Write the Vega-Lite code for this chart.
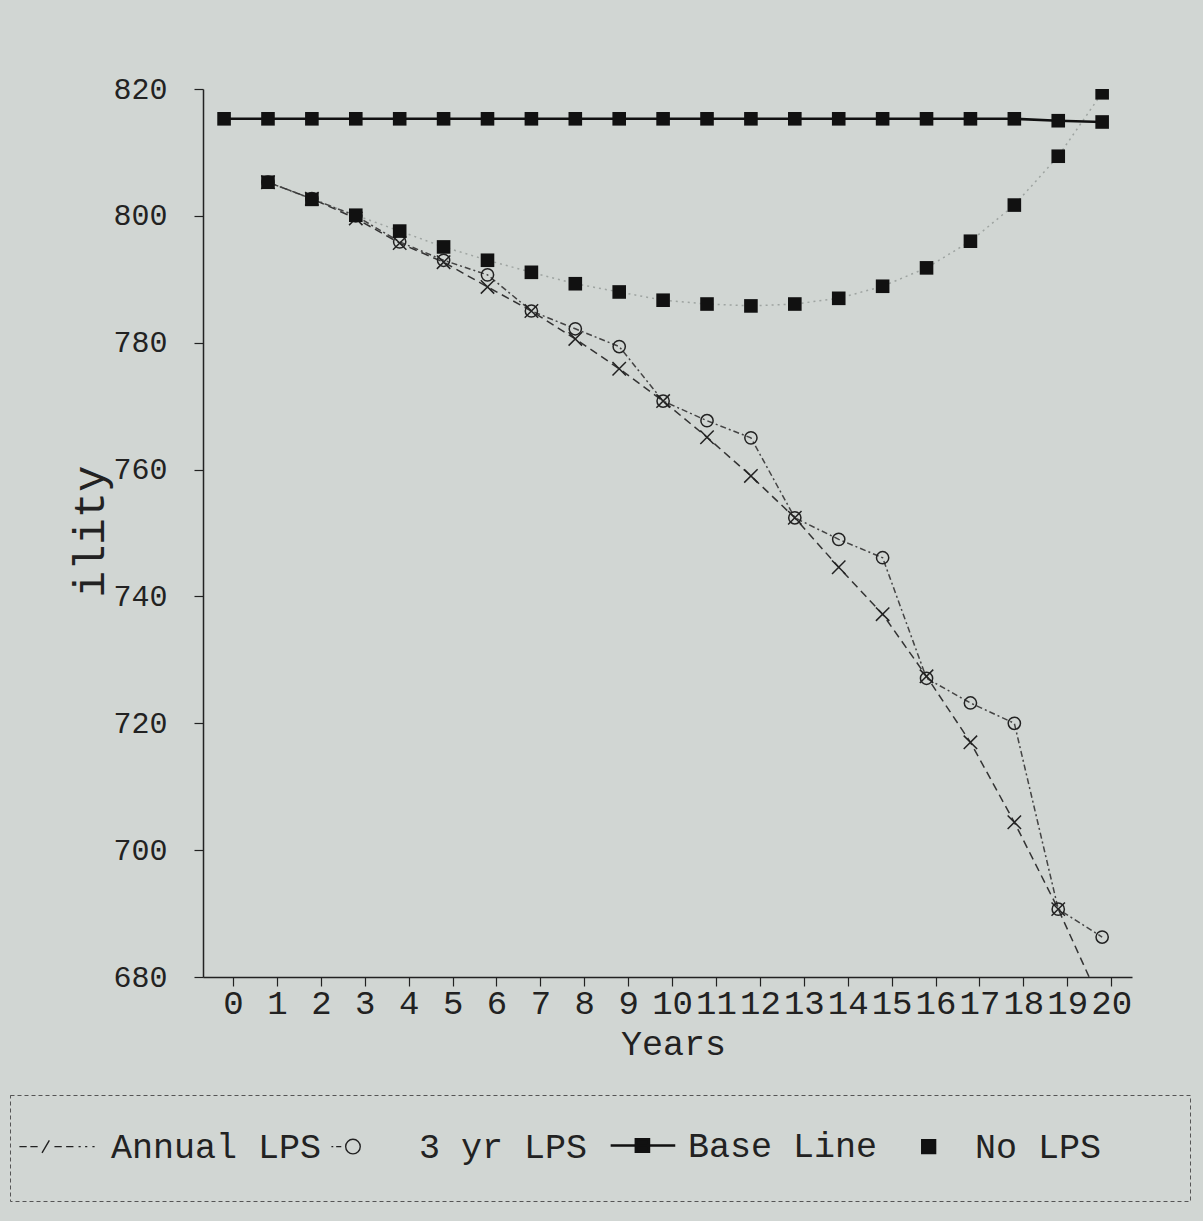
{
  "$schema": "https://vega.github.io/schema/vega-lite/v6.json",
  "width": 929,
  "height": 888,
  "autosize": {"type": "none"},
  "padding": {"left": 203, "top": 89, "right": 71, "bottom": 244},
  "background": "#d1d6d3",
  "config": {"view": {"stroke": null}, "font": "Liberation Mono"},
  "data": {
    "values": [
      {"year": 1, "series": "Annual LPS", "value": 805.3},
      {"year": 2, "series": "Annual LPS", "value": 802.7},
      {"year": 3, "series": "Annual LPS", "value": 799.6},
      {"year": 4, "series": "Annual LPS", "value": 795.7},
      {"year": 5, "series": "Annual LPS", "value": 792.7},
      {"year": 6, "series": "Annual LPS", "value": 788.8},
      {"year": 7, "series": "Annual LPS", "value": 785.0},
      {"year": 8, "series": "Annual LPS", "value": 780.6},
      {"year": 9, "series": "Annual LPS", "value": 775.9},
      {"year": 10, "series": "Annual LPS", "value": 770.8},
      {"year": 11, "series": "Annual LPS", "value": 765.1},
      {"year": 12, "series": "Annual LPS", "value": 759.0},
      {"year": 13, "series": "Annual LPS", "value": 752.4},
      {"year": 14, "series": "Annual LPS", "value": 744.6},
      {"year": 15, "series": "Annual LPS", "value": 737.2},
      {"year": 16, "series": "Annual LPS", "value": 727.4},
      {"year": 17, "series": "Annual LPS", "value": 717.0},
      {"year": 18, "series": "Annual LPS", "value": 704.4},
      {"year": 19, "series": "Annual LPS", "value": 690.7},
      {"year": 20, "series": "Annual LPS", "value": 675.5},
      {"year": 1, "series": "3 yr LPS", "value": 805.3},
      {"year": 2, "series": "3 yr LPS", "value": 802.7},
      {"year": 3, "series": "3 yr LPS", "value": 800.0},
      {"year": 4, "series": "3 yr LPS", "value": 795.9},
      {"year": 5, "series": "3 yr LPS", "value": 793.0},
      {"year": 6, "series": "3 yr LPS", "value": 790.7},
      {"year": 7, "series": "3 yr LPS", "value": 785.0},
      {"year": 8, "series": "3 yr LPS", "value": 782.2},
      {"year": 9, "series": "3 yr LPS", "value": 779.4},
      {"year": 10, "series": "3 yr LPS", "value": 770.8},
      {"year": 11, "series": "3 yr LPS", "value": 767.7},
      {"year": 12, "series": "3 yr LPS", "value": 765.0},
      {"year": 13, "series": "3 yr LPS", "value": 752.4},
      {"year": 14, "series": "3 yr LPS", "value": 749.0},
      {"year": 15, "series": "3 yr LPS", "value": 746.1},
      {"year": 16, "series": "3 yr LPS", "value": 727.1},
      {"year": 17, "series": "3 yr LPS", "value": 723.2},
      {"year": 18, "series": "3 yr LPS", "value": 720.0},
      {"year": 19, "series": "3 yr LPS", "value": 690.7},
      {"year": 20, "series": "3 yr LPS", "value": 686.3},
      {"year": 0, "series": "Base Line", "value": 815.3},
      {"year": 1, "series": "Base Line", "value": 815.3},
      {"year": 2, "series": "Base Line", "value": 815.3},
      {"year": 3, "series": "Base Line", "value": 815.3},
      {"year": 4, "series": "Base Line", "value": 815.3},
      {"year": 5, "series": "Base Line", "value": 815.3},
      {"year": 6, "series": "Base Line", "value": 815.3},
      {"year": 7, "series": "Base Line", "value": 815.3},
      {"year": 8, "series": "Base Line", "value": 815.3},
      {"year": 9, "series": "Base Line", "value": 815.3},
      {"year": 10, "series": "Base Line", "value": 815.3},
      {"year": 11, "series": "Base Line", "value": 815.3},
      {"year": 12, "series": "Base Line", "value": 815.3},
      {"year": 13, "series": "Base Line", "value": 815.3},
      {"year": 14, "series": "Base Line", "value": 815.3},
      {"year": 15, "series": "Base Line", "value": 815.3},
      {"year": 16, "series": "Base Line", "value": 815.3},
      {"year": 17, "series": "Base Line", "value": 815.3},
      {"year": 18, "series": "Base Line", "value": 815.3},
      {"year": 19, "series": "Base Line", "value": 815.0},
      {"year": 20, "series": "Base Line", "value": 814.8},
      {"year": 1, "series": "No LPS", "value": 805.3},
      {"year": 2, "series": "No LPS", "value": 802.6},
      {"year": 3, "series": "No LPS", "value": 800.1},
      {"year": 4, "series": "No LPS", "value": 797.6},
      {"year": 5, "series": "No LPS", "value": 795.1},
      {"year": 6, "series": "No LPS", "value": 793.0},
      {"year": 7, "series": "No LPS", "value": 791.1},
      {"year": 8, "series": "No LPS", "value": 789.3},
      {"year": 9, "series": "No LPS", "value": 788.0},
      {"year": 10, "series": "No LPS", "value": 786.7},
      {"year": 11, "series": "No LPS", "value": 786.1},
      {"year": 12, "series": "No LPS", "value": 785.8},
      {"year": 13, "series": "No LPS", "value": 786.1},
      {"year": 14, "series": "No LPS", "value": 787.0},
      {"year": 15, "series": "No LPS", "value": 788.9},
      {"year": 16, "series": "No LPS", "value": 791.8},
      {"year": 17, "series": "No LPS", "value": 796.0},
      {"year": 18, "series": "No LPS", "value": 801.7},
      {"year": 19, "series": "No LPS", "value": 809.4},
      {"year": 20, "series": "No LPS", "value": 819.4}
    ]
  },
  "encoding": {
    "x": {
      "field": "year",
      "type": "quantitative",
      "scale": {"domain": [-0.48, 20.68], "nice": false, "zero": false},
      "axis": {
        "values": [0, 1, 2, 3, 4, 5, 6, 7, 8, 9, 10, 11, 12, 13, 14, 15, 16, 17, 18, 19, 20],
        "format": "d",
        "tickOffset": 9,
        "tickSize": 9,
        "tickColor": "#222",
        "tickWidth": 1.2,
        "domainColor": "#222",
        "domainWidth": 1.5,
        "grid": false,
        "labelFont": "Liberation Mono",
        "labelFontSize": 34,
        "labelColor": "#222",
        "labelPadding": 0,
        "labelFlush": false,
        "labelOverlap": false,
        "title": "Years",
        "titleFont": "Liberation Mono",
        "titleFontSize": 35,
        "titleFontWeight": "normal",
        "titleColor": "#222",
        "titleX": 470,
        "titleY": 66,
        "titleBaseline": "middle",
        "encode": {"ticks": {"update": {"y": {"value": -9}}}}
      }
    },
    "y": {
      "field": "value",
      "type": "quantitative",
      "scale": {"domain": [680, 820], "nice": false, "zero": false},
      "axis": {
        "values": [680, 700, 720, 740, 760, 780, 800, 820],
        "tickSize": 9,
        "tickColor": "#222",
        "tickWidth": 1.2,
        "domainColor": "#222",
        "domainWidth": 1.5,
        "grid": false,
        "labelFont": "Liberation Mono",
        "labelFontSize": 30,
        "labelColor": "#222",
        "labelPadding": 27,
        "labelOverlap": false,
        "title": "ility",
        "titleFont": "Liberation Mono",
        "titleFontSize": 44,
        "titleFontWeight": "normal",
        "titleColor": "#222",
        "titleAngle": 270,
        "titleX": -113,
        "titleY": 442,
        "titleAlign": "center",
        "titleBaseline": "middle",
        "encode": {"ticks": {"update": {"x": {"value": 9}}}}
      }
    }
  },
  "layer": [
    {
      "transform": [{"filter": "datum.series === 'No LPS'"}],
      "mark": {"type": "line", "clip": true, "color": "#9ea4a1", "strokeDash": [2, 4], "strokeWidth": 1.5},
      "encoding": {}
    },
    {
      "transform": [{"filter": "datum.series === 'Annual LPS'"}],
      "mark": {"type": "line", "clip": true, "color": "#333333", "strokeDash": [8, 5], "strokeWidth": 1.5},
      "encoding": {}
    },
    {
      "transform": [{"filter": "datum.series === '3 yr LPS'"}],
      "mark": {"type": "line", "clip": true, "color": "#444444", "strokeDash": [2, 3, 6, 3], "strokeWidth": 1.5},
      "encoding": {}
    },
    {
      "transform": [{"filter": "datum.series === 'Base Line'"}],
      "mark": {"type": "line", "clip": true, "strokeWidth": 2.6},
      "encoding": {
        "color": {
          "field": "series",
          "type": "nominal",
          "scale": {"domain": ["Annual LPS", "3 yr LPS", "Base Line", "No LPS"], "range": ["#222222", "#222222", "#111111", "#111111"]},
          "legend": {
            "orient": "none",
            "legendX": -193,
            "legendY": 1006,
            "direction": "horizontal",
            "title": null,
            "padding": 16,
            "strokeColor": "#555555",
            "symbolSize": 5329,
            "symbolStrokeWidth": 1.4,
            "labelFont": "Liberation Mono",
            "labelFontSize": 35,
            "labelColor": "#222222",
            "labelOffset": 50,
            "labelBaseline": "top",
            "labelLimit": 0,
            "columnPadding": 1,
            "encode": {
              "legend": {"update": {"strokeDash": {"value": [4, 3]}, "stroke": {"value": "#555555"}}},
              "symbols": {
                "update": {
                  "shape": {"signal": "datum.value === 'Annual LPS' ? 'M-0.7,-0.4M1.55,1.4M-0.66,0.46H-0.46M-0.36,0.46H-0.16M-0.04,0.63L0.16,0.29M0.3,0.46H0.5M0.62,0.46H0.82M0.96,0.46H1.02M1.14,0.46H1.2M1.34,0.46H1.4' : datum.value === '3 yr LPS' ? 'M-0.7,-0.4M1.55,1.4M-0.55,0.46H-0.5M-0.42,0.46H-0.28M0.24,0.46A0.2,0.2 0 1 1 -0.16,0.46A0.2,0.2 0 1 1 0.24,0.46' : datum.value === 'Base Line' ? 'M-0.7,-0.4M1.55,1.4M-0.27,0.46H1.5M0.42,0.29H0.78V0.63H0.42Z' : 'M-0.7,-0.4M7.2,1.4M0.39,0.27H0.77V0.65H0.39Z'"},
                  "size": {"value": 5329},
                  "fill": {"signal": "datum.value === 'Base Line' || datum.value === 'No LPS' ? '#111111' : 'transparent'"},
                  "stroke": {"value": "#222222"},
                  "strokeWidth": {"signal": "datum.value === 'Base Line' ? 2.5 : 1.4"},
                  "opacity": {"value": 1}
                }
              }
            }
          }
        }
      }
    },
    {
      "transform": [{"filter": "datum.series === 'Annual LPS'"}],
      "mark": {"type": "point", "clip": true, "shape": "M-1,-1L1,1M-1,1L1,-1", "size": 180, "filled": false, "color": "#222222", "strokeWidth": 1.5, "opacity": 1},
      "encoding": {}
    },
    {
      "transform": [{"filter": "datum.series === '3 yr LPS'"}],
      "mark": {"type": "point", "clip": true, "shape": "circle", "size": 150, "filled": false, "color": "#222222", "strokeWidth": 1.5, "opacity": 1},
      "encoding": {}
    },
    {
      "transform": [{"filter": "datum.series === 'Base Line' || datum.series === 'No LPS'"}],
      "mark": {"type": "point", "clip": true, "shape": "square", "size": 185, "filled": true, "color": "#111111", "opacity": 1},
      "encoding": {}
    }
  ]
}
